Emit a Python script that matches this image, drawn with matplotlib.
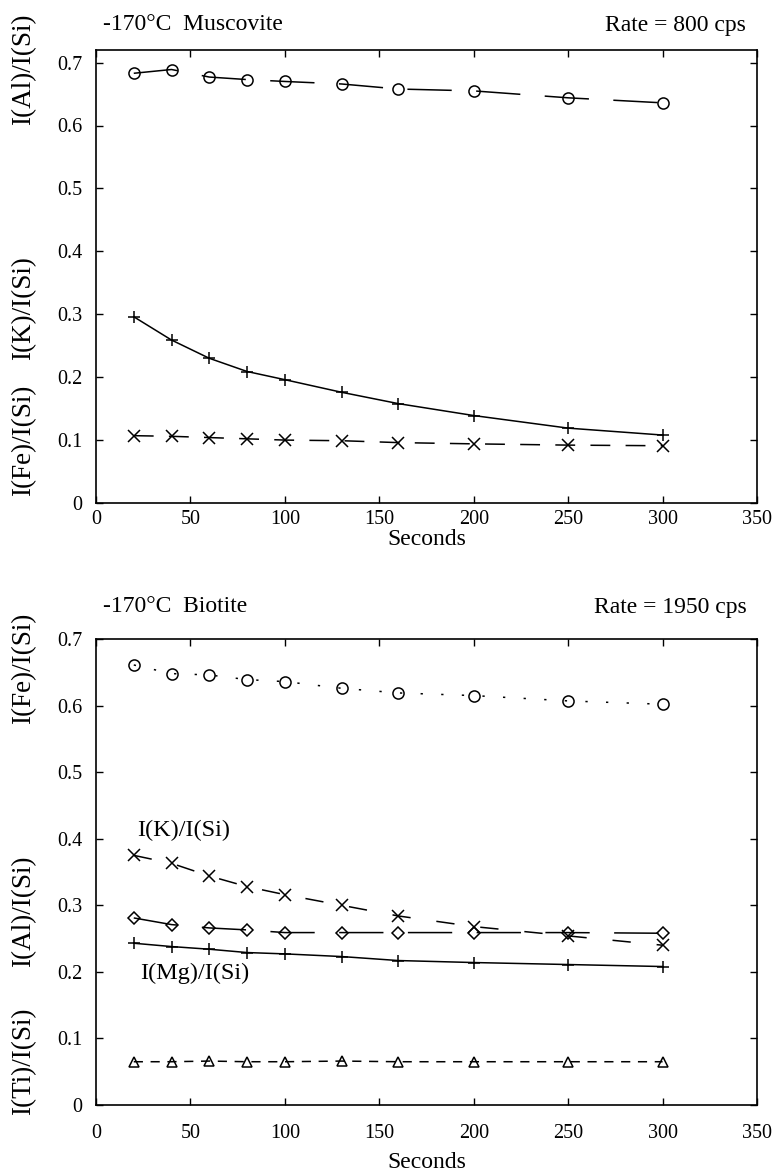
import matplotlib
matplotlib.use("Agg")
import matplotlib.pyplot as plt

plt.rcParams['font.family'] = ['Liberation Serif', 'DejaVu Serif']

seconds = [20, 40, 60, 80, 100, 130, 160, 200, 250, 300]

# muscovite, 800 cps
musc_al = [0.683, 0.689, 0.677, 0.673, 0.670, 0.666, 0.658, 0.655, 0.644, 0.636]
musc_k = [0.296, 0.259, 0.230, 0.209, 0.196, 0.176, 0.158, 0.139, 0.119, 0.108]
musc_fe = [0.107, 0.106, 0.104, 0.102, 0.100, 0.099, 0.096, 0.094, 0.092, 0.091]

# biotite, 1950 cps
bio_fe = [0.661, 0.648, 0.646, 0.639, 0.636, 0.626, 0.619, 0.615, 0.607, 0.602]
bio_k = [0.375, 0.363, 0.344, 0.328, 0.316, 0.300, 0.284, 0.268, 0.254, 0.240]
bio_al = [0.281, 0.271, 0.266, 0.263, 0.259, 0.259, 0.259, 0.259, 0.259, 0.258]
bio_mg = [0.243, 0.238, 0.234, 0.229, 0.227, 0.223, 0.217, 0.214, 0.211, 0.208]
bio_ti = [0.065, 0.065, 0.066, 0.065, 0.065, 0.066, 0.065, 0.065, 0.065, 0.065]

xticks = [0, 50, 100, 150, 200, 250, 300, 350]
yticks = [0, 0.1, 0.2, 0.3, 0.4, 0.5, 0.6, 0.7]
ytick_labels = ['0', '0.1', '0.2', '0.3', '0.4', '0.5', '0.6', '0.7']

W, H = 775, 1171
fig = plt.figure(figsize=(W / 100, H / 100), dpi=100)


def px(x, y):
    return x / W, 1 - y / H


def setup(ax, ytop, xpad):
    ax.set_xlim(0, 350)
    ax.set_ylim(0, ytop)
    ax.set_xticks(xticks)
    ax.set_yticks(yticks)
    ax.set_yticklabels(ytick_labels)
    ax.tick_params(direction='in', length=5, width=1, top=True, right=True,
                   labelsize=14.5)
    ax.tick_params(axis='x', pad=xpad)
    ax.tick_params(axis='y', pad=10)
    for s in ax.spines.values():
        s.set_linewidth(1.2)


mk = dict(color='black', lw=1.1, ms=8, mfc='none', mew=1.1)

# upper panel
ax1 = fig.add_axes([96 / W, 1 - 503 / H, 661 / W, 453 / H])
setup(ax1, 0.72, 5)
ax1.plot(seconds, musc_al, marker='o', dashes=(29, 16), **mk)
ax1.plot(seconds, musc_k, marker='+', ls='-', **mk)
ax1.plot(seconds, musc_fe, marker='x', dashes=(13, 10), **mk)
ax1.set_xlabel('Seconds', fontsize=17, labelpad=0)

fig.text(*px(103, 25), '-170°C  Muscovite', fontsize=17, va='center', ha='left')
fig.text(*px(746, 25), 'Rate = 800 cps', fontsize=17, va='center', ha='right')
fig.text(*px(24, 69), 'I(Al)/I(Si)', fontsize=19.5, rotation=90, va='center', ha='center')
fig.text(*px(24, 308), 'I(K)/I(Si)', fontsize=19.5, rotation=90, va='center', ha='center')
fig.text(*px(24, 440), 'I(Fe)/I(Si)', fontsize=19.5, rotation=90, va='center', ha='center')

# lower panel
ax2 = fig.add_axes([96 / W, 1 - 1105 / H, 661 / W, 466 / H])
setup(ax2, 0.7, 14)
ax2.plot(seconds, bio_fe, marker='o', dashes=(1.5, 12), **mk)
ax2.plot(seconds, bio_k, marker='x', dashes=(12, 17), **mk)
ax2.plot(seconds, bio_al, marker='D', dashes=(29, 16), **dict(mk, ms=6.5))
ax2.plot(seconds, bio_mg, marker='+', ls='-', **mk)
ax2.plot(seconds, bio_ti, marker='^', dashes=(6, 5), **dict(mk, ms=7.5))
ax2.set_xlabel('Seconds', fontsize=17, labelpad=6)

fig.text(*px(103, 607), '-170°C  Biotite', fontsize=17, va='center', ha='left')
fig.text(*px(747, 608), 'Rate = 1950 cps', fontsize=17, va='center', ha='right')
fig.text(*px(137, 830), 'I(K)/I(Si)', fontsize=17.5, va='center', ha='left')
fig.text(*px(140, 973), 'I(Mg)/I(Si)', fontsize=17.5, va='center', ha='left')
fig.text(*px(24, 668), 'I(Fe)/I(Si)', fontsize=19.5, rotation=90, va='center', ha='center')
fig.text(*px(24, 911), 'I(Al)/I(Si)', fontsize=19.5, rotation=90, va='center', ha='center')
fig.text(*px(24, 1061), 'I(Ti)/I(Si)', fontsize=19.5, rotation=90, va='center', ha='center')

fig.savefig('out.png', dpi=100)
